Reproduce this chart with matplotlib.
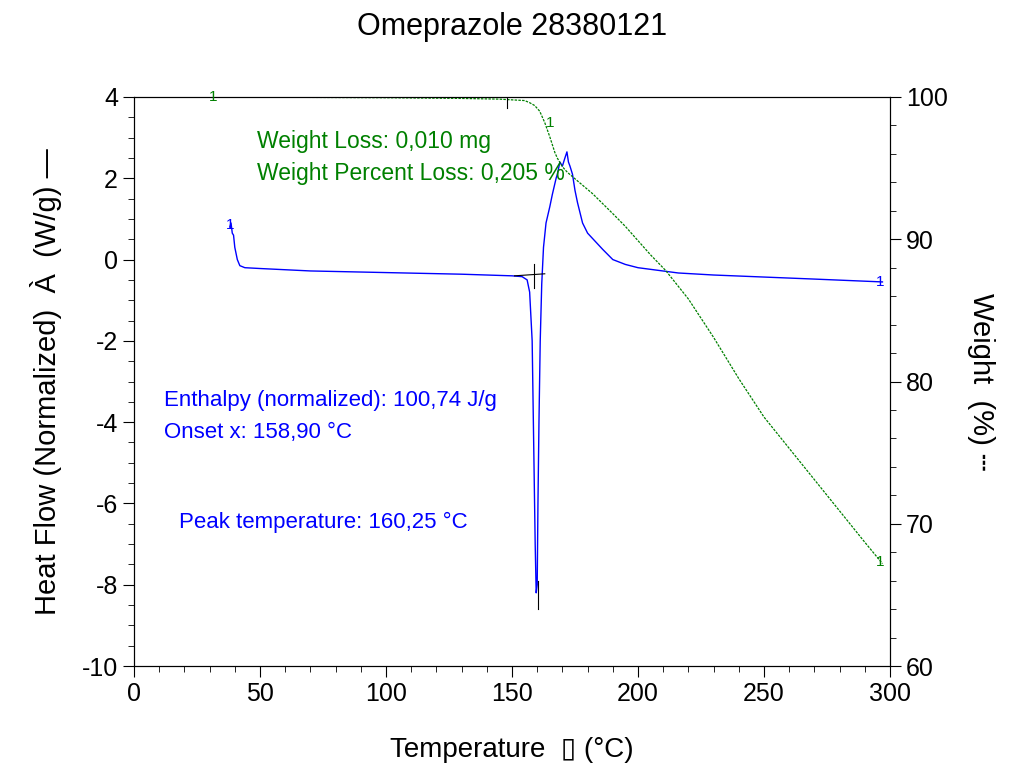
import numpy as np
import matplotlib.pyplot as plt
from matplotlib.ticker import MultipleLocator

plt.rcParams['font.family'] = ['Liberation Sans', 'DejaVu Sans']
plt.rcParams['axes.unicode_minus'] = False

# heat flow curve (W/g)
hf_t = [38, 38.5, 39, 39.5, 40, 41, 42, 44, 50, 70, 100, 130, 150, 154, 156, 157, 158, 158.6, 159.2, 159.6,
        160.0, 160.3, 160.7, 161.2, 161.8, 162.5, 163.5, 165, 166, 167.5, 168, 169, 170, 171, 171.8, 172.4,
        173, 174, 175, 176, 178, 180, 183, 186, 190, 195, 200, 216, 230, 250, 270, 297]
hf_v = [0.8, 0.9, 0.65, 0.6, 0.3, 0.0, -0.15, -0.2, -0.22, -0.28, -0.32, -0.36, -0.4, -0.42, -0.5, -0.8,
        -2.0, -4.5, -7.0, -8.2, -8.0, -6.0, -4.0, -2.0, -0.6, 0.3, 0.9, 1.3, 1.6, 2.0, 2.1, 2.4, 2.3, 2.5,
        2.65, 2.4, 2.3, 2.1, 1.7, 1.4, 0.9, 0.65, 0.45, 0.25, 0.0, -0.12, -0.2, -0.33, -0.38, -0.43, -0.48, -0.55]

# weight curve (%)
w_t = [32, 60, 100, 130, 145, 150, 155, 157, 159, 161, 163, 165, 167, 168, 170, 172, 174, 178, 182, 186,
       190, 195, 200, 205, 211, 220, 230, 240, 250, 260, 270, 280, 290, 297]
w_v = [100.0, 99.98, 99.95, 99.9, 99.85, 99.8, 99.75, 99.6, 99.4, 99.0, 98.2, 97.2, 96.1, 95.7, 95.1, 94.7,
       94.4, 93.8, 93.2, 92.5, 91.8, 90.9, 89.9, 88.9, 87.8, 85.8, 83.1, 80.2, 77.5, 75.3, 73.1, 70.9, 68.7, 67.2]

fig = plt.figure(figsize=(10.25, 7.72), dpi=100)
ax = fig.add_axes([134 / 1025, 1 - 666 / 772, 756 / 1025, 569 / 772])
ax2 = ax.twinx()

ax.plot(hf_t, hf_v, color='#0000ff', lw=1)
ax2.plot(w_t, w_v, color='#008000', lw=0.9, ls=(0, (2, 1)))

# onset construction lines
ax.plot([151, 163], [-0.4, -0.35], color='black', lw=0.8)
ax.plot([158.9, 158.9], [-0.1, -0.7], color='black', lw=0.8)
ax.plot([160.25, 160.25], [-7.9, -8.6], color='black', lw=0.8)
ax2.plot([148, 148], [99.2, 100.9], color='black', lw=0.8)

ax.set_xlim(0, 300)
ax.set_ylim(-10, 4)
ax2.set_ylim(60, 100)
ax.xaxis.set_major_locator(MultipleLocator(50))
ax.xaxis.set_minor_locator(MultipleLocator(10))
ax.yaxis.set_major_locator(MultipleLocator(2))
ax.yaxis.set_minor_locator(MultipleLocator(0.5))
ax2.yaxis.set_major_locator(MultipleLocator(10))
ax2.yaxis.set_minor_locator(MultipleLocator(2))
for a in (ax, ax2):
    a.tick_params(which='both', direction='out', labelsize=18)
    a.tick_params(which='major', length=8)
    a.tick_params(which='minor', length=4)

for x, y in [(38, 0.85), (296, -0.55)]:
    ax.text(x, y, '1', color='#0000ff', fontsize=11, ha='center', va='center')
for x, y in [(31.5, 100), (165, 98.2), (296, 67.3)]:
    ax2.text(x, y, '1', color='#008000', fontsize=11, ha='center', va='center')

ax.text(49, 2.75, 'Weight Loss: 0,010 mg', color='#008000', fontsize=16.5)
ax.text(49, 1.95, 'Weight Percent Loss: 0,205 %', color='#008000', fontsize=16.5)
ax.text(12, -3.6, 'Enthalpy (normalized): 100,74 J/g', color='#0000ff', fontsize=16)
ax.text(12, -4.4, 'Onset x: 158,90 °C', color='#0000ff', fontsize=16)
ax.text(18, -6.6, 'Peak temperature: 160,25 °C', color='#0000ff', fontsize=16)

ax.set_xlabel('Temperature  \u25af (°C)', fontsize=20, labelpad=22)
ax.set_ylabel('Heat Flow (Normalized)  À  (W/g) \u2014', fontsize=21, labelpad=14)
ax2.set_ylabel('Weight  (%) \u2504', fontsize=21, rotation=270, labelpad=34)
fig.suptitle('Omeprazole 28380121', fontsize=22, y=0.985)

fig.savefig('out.png', dpi=100)
